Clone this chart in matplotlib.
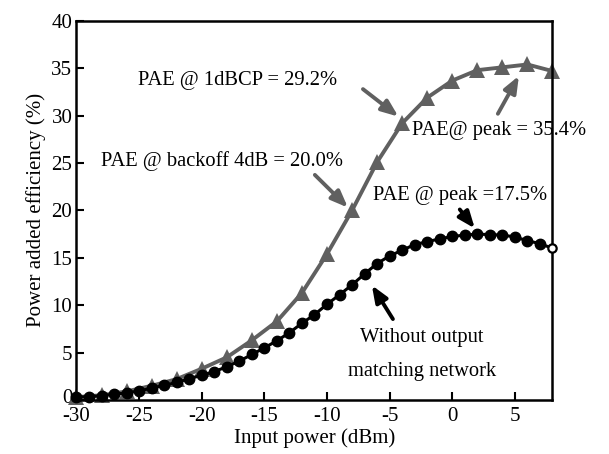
import matplotlib
matplotlib.use("Agg")
import matplotlib.pyplot as plt
from matplotlib.transforms import ScaledTranslation

# ---- data ----
x_black = list(range(-30, 9))
y_black = [0.3, 0.35, 0.45, 0.6, 0.75, 0.95, 1.25, 1.55, 1.85, 2.25,
           2.6, 3.0, 3.5, 4.1, 4.8, 5.5, 6.25, 7.1, 8.1, 9.0,
           10.1, 11.1, 12.15, 13.3, 14.4, 15.2, 15.8, 16.4, 16.7, 17.0,
           17.25, 17.4, 17.5, 17.45, 17.4, 17.2, 16.8, 16.5, 16.0]
x_gray = list(range(-30, 9, 2))
y_gray = [0.3, 0.5, 0.9, 1.5, 2.2, 3.3, 4.5, 6.3, 8.3, 11.3,
          15.4, 20.0, 25.1, 29.2, 31.9, 33.7, 34.8, 35.1, 35.4, 34.7]
x_ticks = [-30, -25, -20, -15, -10, -5, 0, 5]
y_ticks = [0, 5, 10, 15, 20, 25, 30, 35, 40]

GRAY = "#606060"
plt.rcParams['font.family'] = ['Liberation Serif', 'DejaVu Serif']
plt.rcParams['axes.unicode_minus'] = False

fig = plt.figure(figsize=(6.09, 4.54), dpi=100)
ax = fig.add_axes([0.1256, 0.119, 0.7816, 0.835])

ax.plot(x_gray, y_gray, color=GRAY, lw=2.8, marker='^', ms=11,
        markeredgewidth=0, zorder=2, clip_on=False)
ax.plot(x_black[:-1], y_black[:-1], color='black', lw=2.2, marker='o', ms=7.5,
        zorder=3, clip_on=False)
ax.plot(x_black[-2:], y_black[-2:], color='black', lw=2.2, zorder=3, clip_on=False)
ax.plot(x_black[-1:], y_black[-1:], color='black', lw=0, marker='o', ms=6,
        markerfacecolor='white', markeredgewidth=1.6, zorder=4, clip_on=False)

ax.set_xlim(-30, 8)
ax.set_ylim(0, 40)
ax.set_xticks(x_ticks)
ax.set_yticks(y_ticks)
ax.tick_params(direction='in', length=6, width=1.5, labelsize=15,
               top=False, right=False)
ax.tick_params(axis='x', pad=5)
ax.tick_params(axis='y', pad=3)
for s in ax.spines.values():
    s.set_linewidth(1.8)
ax.set_xlabel("Input power (dBm)", fontsize=15, labelpad=2)
ax.set_ylabel("Power added efficiency (%)", fontsize=15, labelpad=4)

# nudge the y "0" label up slightly so it doesn't collide with "-30"
fig.canvas.draw()
zero_lbl = ax.get_yticklabels()[0]
zero_lbl.set_transform(zero_lbl.get_transform()
                       + ScaledTranslation(0, 4 / 100, fig.dpi_scale_trans))

fs = 14.8
ax.text(-17.15, 33.75, "PAE @ 1dBCP = 29.2%", fontsize=fs, ha='center', va='center')
ax.text(-18.4, 25.2, "PAE @ backoff 4dB = 20.0%", fontsize=fs, ha='center', va='center')
ax.text(-3.25, 28.4, "PAE@ peak = 35.4%", fontsize=fs, ha='left', va='center',
        clip_on=False)
ax.text(-6.36, 21.6, "PAE @ peak =17.5%", fontsize=fs, ha='left', va='center')
ax.text(-2.4, 6.6, "Without output", fontsize=fs, ha='center', va='center')
ax.text(-2.4, 3.0, "matching network", fontsize=fs, ha='center', va='center')

def arrow(tail, head, color):
    ax.annotate("", xy=head, xytext=tail,
                arrowprops=dict(arrowstyle="-|>,head_length=1.0,head_width=0.4",
                                color=color, lw=2.8, shrinkA=0, shrinkB=0))

arrow((-7.13, 32.8), (-4.3, 29.9), GRAY)
arrow((-10.97, 23.75), (-8.33, 20.3), GRAY)
arrow((3.64, 30.2), (5.32, 34.2), GRAY)
arrow((0.6, 20.1), (1.8, 18.1), 'black')
arrow((-4.74, 8.54), (-6.42, 12.1), 'black')

fig.savefig("out.png", dpi=100)
